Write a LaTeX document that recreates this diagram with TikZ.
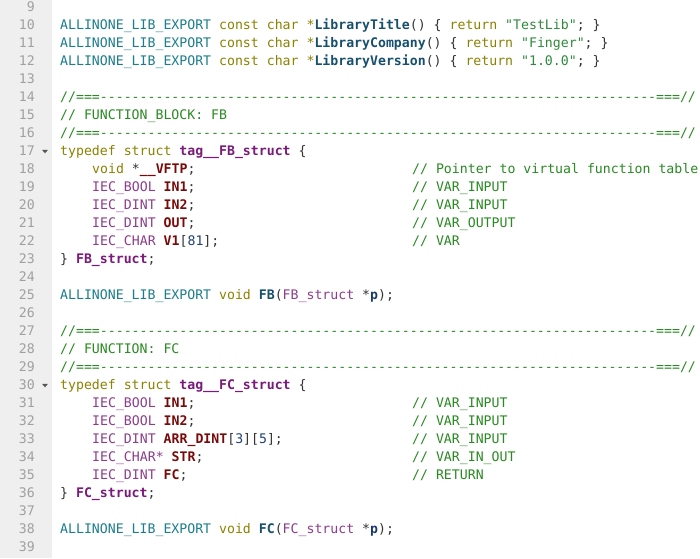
\documentclass[tikz,border=0pt]{standalone}
\usepackage{fontspec}
\setmonofont{DejaVu Sans Mono}
\definecolor{gutter}{HTML}{EFEFEF}
\definecolor{lngray}{HTML}{A0A0A0}
\definecolor{punct}{HTML}{333333}
\definecolor{macro}{HTML}{1B7E8C}
\definecolor{kw}{HTML}{8C8200}
\definecolor{fn}{HTML}{17506E}
\definecolor{str}{HTML}{2E8B3A}
\definecolor{cmt}{HTML}{2A8A22}
\definecolor{sname}{HTML}{7A1A7A}
\definecolor{ty}{HTML}{8E3C8E}
\definecolor{fld}{HTML}{7A0A0A}
\definecolor{num}{HTML}{23407A}
\definecolor{par}{HTML}{1A3A6A}
\definecolor{fold}{HTML}{555555}
\newcommand\MC[1]{\textcolor{macro}{#1}}
\newcommand\KW[1]{\textcolor{kw}{#1}}
\newcommand\FN[1]{\textcolor{fn}{\bfseries #1}}
\newcommand\ST[1]{\textcolor{str}{#1}}
\newcommand\SN[1]{\textcolor{sname}{\bfseries #1}}
\newcommand\TY[1]{\textcolor{ty}{#1}}
\newcommand\FD[1]{\textcolor{fld}{\bfseries #1}}
\newcommand\NU[1]{\textcolor{num}{#1}}
\newcommand\PR[1]{\textcolor{par}{\bfseries #1}}
\newcommand\DASHES{//===----------------------------------------------------------------------===//}
\newcommand\BY[1]{-(29.3+(#1-10)*18)}
\newcommand\LN[1]{\node[lnum] (n#1) at (35,{\BY{#1}}) {#1};}
\newcommand\CL[3]{\node[code] (c#1) at (#2,{\BY{#1}}) {#3};}
\newcommand\CM[2]{\node[code,text=cmt] (k#1) at (412,{\BY{#1}}) {#2};}
\newcommand\FOLD[1]{\fill[fold] (42,{\BY{#1}+5.5}) coordinate (f#1) -- (48,{\BY{#1}+5.5}) -- (45,{\BY{#1}+2}) -- cycle;}
\tikzset{
  lnum/.style={anchor=base east, inner sep=0pt, text=lngray,
    font=\ttfamily\frenchspacing\fontsize{13.2}{16}\selectfont},
  code/.style={anchor=base west, inner sep=0pt, text=punct,
    font=\ttfamily\frenchspacing\fontsize{13.2}{16}\selectfont},
}
\begin{document}
\begin{tikzpicture}[x=1pt,y=1pt]
\useasboundingbox (0,0) rectangle (700,-558);
\fill[white] (0,0) rectangle (700,-558);
\fill[gutter] (0,0) rectangle (52,-558);
% line numbers
\foreach \n in {9,...,39} {\LN{\n}}
% code
\CL{10}{60}{\MC{ALLINONE\_LIB\_EXPORT} \KW{const char *}\FN{LibraryTitle}() \{ \KW{return} \ST{"TestLib"}; \}}
\CL{11}{60}{\MC{ALLINONE\_LIB\_EXPORT} \KW{const char *}\FN{LibraryCompany}() \{ \KW{return} \ST{"Finger"}; \}}
\CL{12}{60}{\MC{ALLINONE\_LIB\_EXPORT} \KW{const char *}\FN{LibraryVersion}() \{ \KW{return} \ST{"1.0.0"}; \}}
\CL{14}{60}{\textcolor{cmt}{\DASHES}}
\CL{15}{60}{\textcolor{cmt}{// FUNCTION\_BLOCK: FB}}
\CL{16}{60}{\textcolor{cmt}{\DASHES}}
\FOLD{17}
\CL{17}{60}{\KW{typedef struct} \SN{tag\_\_FB\_struct} \{}
\CL{18}{92}{\KW{void} *\FD{\_\_VFTP};}
\CM{18}{// Pointer to virtual function table}
\CL{19}{92}{\TY{IEC\_BOOL} \FD{IN1};}
\CM{19}{// VAR\_INPUT}
\CL{20}{92}{\TY{IEC\_DINT} \FD{IN2};}
\CM{20}{// VAR\_INPUT}
\CL{21}{92}{\TY{IEC\_DINT} \FD{OUT};}
\CM{21}{// VAR\_OUTPUT}
\CL{22}{92}{\TY{IEC\_CHAR} \FD{V1}[\NU{81}];}
\CM{22}{// VAR}
\CL{23}{60}{\} \SN{FB\_struct};}
\CL{25}{60}{\MC{ALLINONE\_LIB\_EXPORT} \KW{void} \FN{FB}(\TY{FB\_struct} *\PR{p});}
\CL{27}{60}{\textcolor{cmt}{\DASHES}}
\CL{28}{60}{\textcolor{cmt}{// FUNCTION: FC}}
\CL{29}{60}{\textcolor{cmt}{\DASHES}}
\FOLD{30}
\CL{30}{60}{\KW{typedef struct} \SN{tag\_\_FC\_struct} \{}
\CL{31}{92}{\TY{IEC\_BOOL} \FD{IN1};}
\CM{31}{// VAR\_INPUT}
\CL{32}{92}{\TY{IEC\_BOOL} \FD{IN2};}
\CM{32}{// VAR\_INPUT}
\CL{33}{92}{\TY{IEC\_DINT} \FD{ARR\_DINT}[\NU{3}][\NU{5}];}
\CM{33}{// VAR\_INPUT}
\CL{34}{92}{\TY{IEC\_CHAR*} \FD{STR};}
\CM{34}{// VAR\_IN\_OUT}
\CL{35}{92}{\TY{IEC\_DINT} \FD{FC};}
\CM{35}{// RETURN}
\CL{36}{60}{\} \SN{FC\_struct};}
\CL{38}{60}{\MC{ALLINONE\_LIB\_EXPORT} \KW{void} \FN{FC}(\TY{FC\_struct} *\PR{p});}
\end{tikzpicture}
\end{document}
